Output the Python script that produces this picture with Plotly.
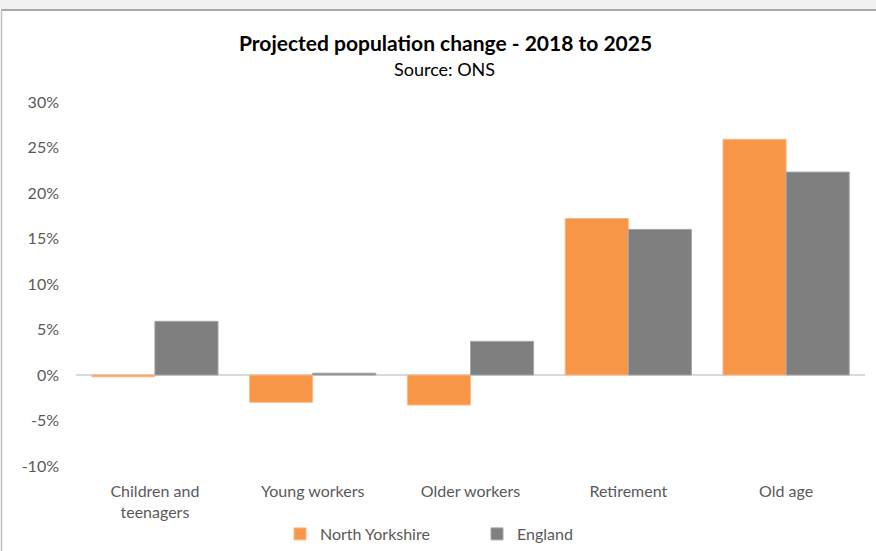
import plotly.graph_objects as go

categories = ["Children and<br>teenagers", "Young workers", "Older workers", "Retirement", "Old age"]
north_yorkshire = [-0.002, -0.030, -0.033, 0.172, 0.259]
england = [0.059, 0.002, 0.037, 0.160, 0.223]
tick_vals = [-0.10, -0.05, 0, 0.05, 0.10, 0.15, 0.20, 0.25, 0.30]
tick_text = ["-10%", "-5%", "0%", "5%", "10%", "15%", "20%", "25%", "30%"]

W, H = 876, 551
L, R, T, B = 76, 11, 102, 85
pw, ph = W - L - R, H - T - B

def px(x):
    return (x - L) / pw

def py(y):
    return (H - B - y) / ph

FONT = "Lato, Calibri, sans-serif"

fig = go.Figure()
fig.add_trace(go.Bar(name="North Yorkshire", x=categories, y=north_yorkshire,
                     marker=dict(color="#F79646", line=dict(color="#FAB98A", width=1))))
fig.add_trace(go.Bar(name="England", x=categories, y=england,
                     marker=dict(color="#7F7F7F", line=dict(color="#A6A6A6", width=1))))

fig.update_layout(
    width=W, height=H,
    margin=dict(l=L, r=R, t=T, b=B, autoexpand=False),
    paper_bgcolor="white", plot_bgcolor="white",
    barmode="group", bargap=0.2, bargroupgap=0,
    font=dict(family=FONT, size=16, color="#595959"),
    showlegend=True,
    legend=dict(orientation="h", x=px(280), xanchor="left", y=py(534), yanchor="middle",
                font=dict(family=FONT, size=16, color="#595959"), entrywidth=152,
                itemwidth=30, traceorder="normal"),
    xaxis=dict(showgrid=False, showline=False, ticks="", ticklabelstandoff=14,
               tickfont=dict(size=16, color="#595959")),
    yaxis=dict(range=[-0.10, 0.30], tickvals=tick_vals, ticktext=tick_text, showgrid=False,
               zeroline=True, zerolinecolor="#D9D9D9", zerolinewidth=1.5, showline=False,
               ticks="", ticklabelstandoff=16, tickfont=dict(size=16, color="#595959")),
    annotations=[
        dict(text="<b>Projected population change - 2018 to 2025</b>", x=px(445), y=py(43),
             xref="paper", yref="paper", showarrow=False, xanchor="center", yanchor="middle",
             font=dict(family=FONT, size=21, color="black")),
        dict(text="Source: ONS", x=px(444), y=py(69), xref="paper", yref="paper", showarrow=False,
             xanchor="center", yanchor="middle", font=dict(family=FONT, size=18, color="black")),
    ],
    shapes=[
        dict(type="rect", xref="paper", yref="paper", x0=px(0), x1=px(W), y0=py(9), y1=py(0),
             fillcolor="#F0F0F0", line=dict(width=0), layer="below"),
        dict(type="line", xref="paper", yref="paper", x0=px(1), x1=px(W), y0=py(10), y1=py(10),
             line=dict(color="#8C8C8C", width=1.5)),
        dict(type="line", xref="paper", yref="paper", x0=px(1.5), x1=px(1.5), y0=py(10), y1=py(H),
             line=dict(color="#BFBFBF", width=1.5)),
    ],
)
fig.write_html("out.html")
